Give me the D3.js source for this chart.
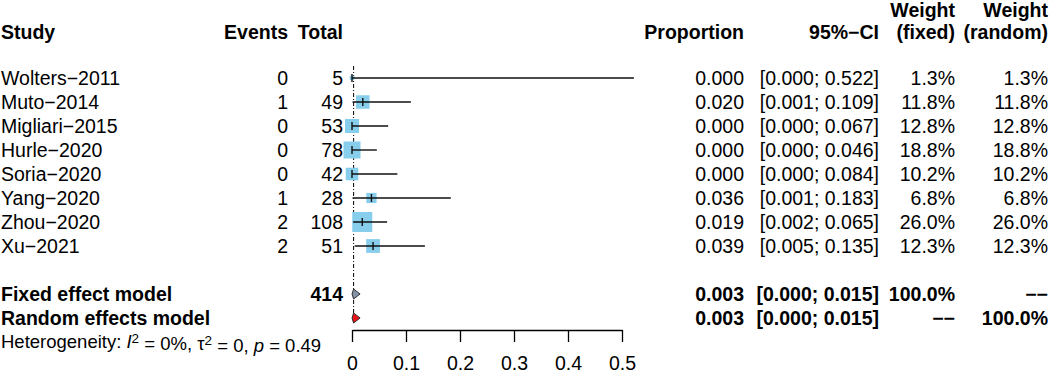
<!DOCTYPE html>
<html>
<head>
<meta charset="utf-8">
<script src="https://cdn.jsdelivr.net/npm/d3@7"></script>
<style>
  body { margin: 0; background: #fff; }
  svg text { font-family: "Liberation Sans", Arial, sans-serif; fill: #000; }
</style>
</head>
<body>
<div id="chart"></div>
<script>
// study level data
const studies = ["Wolters\u22122011", "Muto\u22122014", "Migliari\u22122015", "Hurle\u22122020",
                 "Soria\u22122020", "Yang\u22122020", "Zhou\u22122020", "Xu\u22122021"];
const events = [0, 1, 0, 0, 0, 1, 2, 2];
const totals = [5, 49, 53, 78, 42, 28, 108, 51];
const proportions = [0.000, 0.020, 0.000, 0.000, 0.000, 0.036, 0.019, 0.039];
const lowers = [0.000, 0.001, 0.000, 0.000, 0.000, 0.001, 0.002, 0.005];
const uppers = [0.522, 0.109, 0.067, 0.046, 0.084, 0.183, 0.065, 0.135];
const weightsFixed = [1.3, 11.8, 12.8, 18.8, 10.2, 6.8, 26.0, 12.3];
const weightsRandom = [1.3, 11.8, 12.8, 18.8, 10.2, 6.8, 26.0, 12.3];

// pooled models
const modelNames = ["Fixed effect model", "Random effects model"];
const modelTotals = ["414", ""];
const modelEst = [0.003, 0.003];
const modelLower = [0.000, 0.000];
const modelUpper = [0.015, 0.015];
const modelWFixed = ["100.0%", "\u2212\u2212"];
const modelWRandom = ["\u2212\u2212", "100.0%"];
const modelColors = ["#8494a8", "#e8141c"];

const xTicks = [0, 0.1, 0.2, 0.3, 0.4, 0.5];

const width = 1052, height = 373;
const fs = 19.5;

const svg = d3.select("#chart").append("svg")
    .attr("width", width)
    .attr("height", height);

// scales
const x = d3.scaleLinear().domain([0, 0.5]).range([352, 622]);
const y = d3.scaleLinear().domain([0, 1]).range([78, 102]); // row index -> center
const boxSize = d3.scaleSqrt().domain([0, 26]).range([0, 20]);

const fmt3 = d3.format(".3f");
const fmtW = d => d.toFixed(1) + "%";

// column right edges
const col = { study: 1, events: 288, total: 343, prop: 744, ci: 879, wf: 955, wr: 1048 };

function txt(xp, yp, s, anchor, bold, size) {
    return svg.append("text")
        .attr("x", xp)
        .attr("y", yp)
        .attr("dy", "0.35em")
        .attr("text-anchor", anchor)
        .style("font-size", (size || fs) + "px")
        .style("font-weight", bold ? "bold" : "normal")
        .text(s);
}

// headers
const hy = 32;
txt(col.study, hy, "Study", "start", true);
txt(col.events, hy, "Events", "end", true);
txt(col.total, hy, "Total", "end", true);
txt(col.prop, hy, "Proportion", "end", true);
txt(col.ci, hy, "95%\u2212CI", "end", true);
txt(col.wf, hy - 22, "Weight", "end", true);
txt(col.wf, hy, "(fixed)", "end", true);
txt(col.wr, hy - 22, "Weight", "end", true);
txt(col.wr, hy, "(random)", "end", true);

// reference line at the fixed effect estimate
svg.append("line")
    .attr("x1", x(modelEst[0])).attr("x2", x(modelEst[0]))
    .attr("y1", y(0) - 12).attr("y2", y(10) + 4)
    .attr("stroke", "#000")
    .attr("stroke-width", 1)
    .attr("stroke-dasharray", "4,2,1,2");

// study rows
studies.forEach((s, i) => {
    const yc = y(i);
    txt(col.study, yc, s, "start", false);
    txt(col.events, yc, events[i], "end", false);
    txt(col.total, yc, totals[i], "end", false);
    txt(col.prop, yc, fmt3(proportions[i]), "end", false);
    txt(col.ci, yc, `[${fmt3(lowers[i])}; ${fmt3(uppers[i])}]`, "end", false);
    txt(col.wf, yc, fmtW(weightsFixed[i]), "end", false);
    txt(col.wr, yc, fmtW(weightsRandom[i]), "end", false);

    const b = boxSize(weightsFixed[i]);
    svg.append("rect")
        .attr("x", x(proportions[i]) - b / 2)
        .attr("y", yc - b / 2)
        .attr("width", b)
        .attr("height", b)
        .attr("fill", "#87cdec");

    svg.append("line")
        .attr("x1", x(lowers[i])).attr("x2", x(uppers[i]))
        .attr("y1", yc).attr("y2", yc)
        .attr("stroke", "#111")
        .attr("stroke-width", 1.4);

    svg.append("line")
        .attr("x1", x(proportions[i])).attr("x2", x(proportions[i]))
        .attr("y1", yc - 4).attr("y2", yc + 4)
        .attr("stroke", "#111")
        .attr("stroke-width", 1.4);
});

// pooled rows
modelNames.forEach((m, k) => {
    const yc = y(9 + k);
    txt(col.study, yc, m, "start", true);
    txt(col.total, yc, modelTotals[k], "end", true);
    txt(col.prop, yc, fmt3(modelEst[k]), "end", true);
    txt(col.ci, yc, `[${fmt3(modelLower[k])}; ${fmt3(modelUpper[k])}]`, "end", true);
    txt(col.wf, yc, modelWFixed[k], "end", true);
    txt(col.wr, yc, modelWRandom[k], "end", true);

    const h = 5;
    const pts = [[x(modelLower[k]), yc], [x(modelEst[k]), yc - h],
                 [x(modelUpper[k]), yc], [x(modelEst[k]), yc + h]];
    svg.append("polygon")
        .attr("points", pts.map(p => p.join(",")).join(" "))
        .attr("fill", modelColors[k])
        .attr("stroke", "#333")
        .attr("stroke-width", 1);
});

// heterogeneity line
const het = svg.append("text")
    .attr("x", col.study)
    .attr("y", y(11))
    .attr("dy", "0.35em")
    .style("font-size", "18.5px");
het.append("tspan").text("Heterogeneity: ");
het.append("tspan").style("font-style", "italic").text("I");
het.append("tspan").attr("dy", "-0.4em").style("font-size", "13.5px").text("2");
het.append("tspan").attr("dy", "0.4em").text(" = 0%, \u03c4");
het.append("tspan").attr("dy", "-0.4em").style("font-size", "13.5px").text("2");
het.append("tspan").attr("dy", "0.4em").text(" = 0, ");
het.append("tspan").style("font-style", "italic").text("p");
het.append("tspan").text(" = 0.49");

// x axis
const axis = svg.append("g")
    .attr("transform", "translate(0,330)")
    .call(d3.axisBottom(x)
        .tickValues(xTicks)
        .tickFormat(d => d === 0 ? "0" : d3.format(".1f")(d))
        .tickSize(12)
        .tickSizeOuter(0)
        .tickPadding(14));
axis.selectAll("path, line").attr("stroke", "#000").attr("stroke-width", 1.3);
axis.selectAll("text")
    .style("font-size", fs + "px")
    .style("font-family", "'Liberation Sans', Arial, sans-serif")
    .attr("fill", "#000");
</script>
</body>
</html>
